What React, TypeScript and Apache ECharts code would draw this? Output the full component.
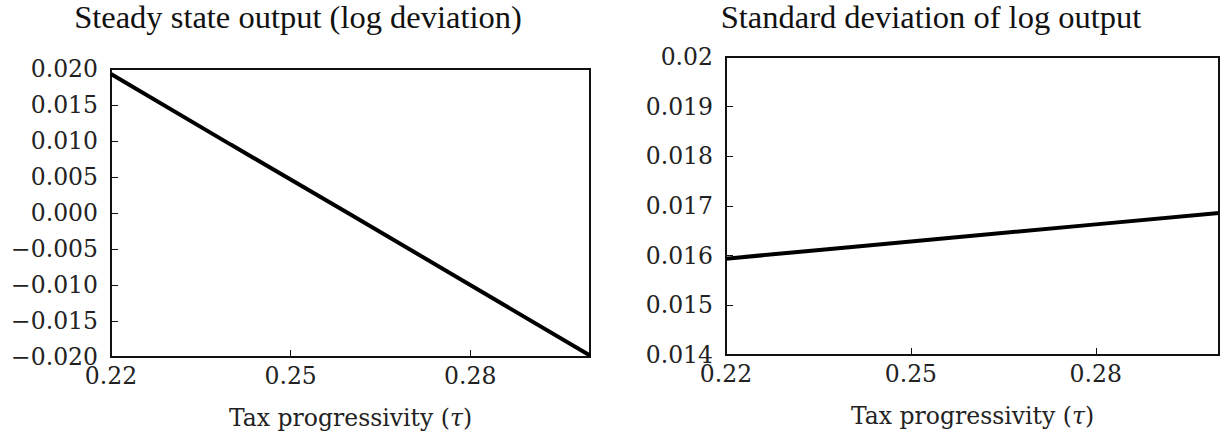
import React, { useEffect, useRef } from "react";
import * as echarts from "echarts";

// Data
const taxProgressivity = [0.22, 0.24, 0.26, 0.28, 0.3];
const steadyStateOutput = [0.0193, 0.0095, -0.0002, -0.01, -0.0198];
const stdLogOutput = [0.01594, 0.01617, 0.0164, 0.01663, 0.01686];

const xTicks = [0.22, 0.25, 0.28];
const leftTitle = "Steady state output (log deviation)";
const rightTitle = "Standard deviation of log output";
const xName = "Tax progressivity ({i|τ})";

const tickFont = "DejaVu Serif";
const titleFont = "Liberation Serif";

function fmtLeft(v: number): string {
  const s = Math.abs(v).toFixed(3);
  return v < -1e-9 ? "\u2212" + s : s;
}
function fmtRight(v: number): string {
  const r = Math.round(v * 1000) / 1000;
  if (Math.abs(r - 0.02) < 1e-9) return "0.02";
  return r.toFixed(3);
}

export default function App() {
  const ref = useRef<HTMLDivElement>(null);
  useEffect(() => {
    if (!ref.current) return;
    const chart = echarts.init(ref.current, null, { renderer: "svg" });
    const xAxisBase = (gridIndex: number) => ({
      type: "value",
      gridIndex,
      min: 0.22,
      max: 0.3,
      interval: 0.01,
      name: xName,
      nameLocation: "middle",
      nameGap: 49,
      nameTextStyle: {
        fontFamily: tickFont,
        fontSize: 23.5,
        color: "#222",
        rich: { i: { fontFamily: tickFont, fontStyle: "italic", fontSize: 23.5, color: "#222" } },
      },
      axisLine: { show: true, onZero: false, lineStyle: { color: "#111", width: 2 } },
      axisTick: {
        show: true,
        inside: true,
        length: 7,
        lineStyle: { color: "#111", width: 1 },
        customValues: xTicks,
      },
      axisLabel: {
        show: true,
        fontFamily: tickFont,
        fontSize: 23.5,
        color: "#222",
        margin: 7,
        customValues: xTicks,
        formatter: (v: number) => v.toFixed(2),
      },
      splitLine: { show: false },
    });
    chart.setOption({
      animation: false,
      backgroundColor: "#ffffff",
      title: [
        {
          text: leftTitle,
          left: 293,
          top: -5,
          textAlign: "center",
          textStyle: { fontFamily: titleFont, fontSize: 32.5, fontWeight: "normal", color: "#111" },
        },
        {
          text: rightTitle,
          left: 926,
          top: -5,
          textAlign: "center",
          textStyle: { fontFamily: titleFont, fontSize: 32.5, fontWeight: "normal", color: "#111" },
        },
      ],
      grid: [
        { left: 111, right: 631, top: 69, bottom: 83, show: true, borderColor: "#111", borderWidth: 2, backgroundColor: "transparent" },
        { left: 726, right: 2, top: 57, bottom: 85, show: true, borderColor: "#111", borderWidth: 2, backgroundColor: "transparent" },
      ],
      xAxis: [xAxisBase(0), xAxisBase(1)],
      yAxis: [
        {
          type: "value",
          gridIndex: 0,
          min: -0.02,
          max: 0.02,
          interval: 0.005,
          axisLine: { show: true, lineStyle: { color: "#111", width: 2 } },
          axisTick: { show: true, inside: true, length: 7, lineStyle: { color: "#111", width: 1 } },
          axisLabel: { fontFamily: tickFont, fontSize: 23.5, color: "#222", margin: 13, formatter: fmtLeft },
          splitLine: { show: false },
        },
        {
          type: "value",
          gridIndex: 1,
          min: 0.014,
          max: 0.02,
          interval: 0.001,
          axisLine: { show: true, lineStyle: { color: "#111", width: 2 } },
          axisTick: { show: true, inside: true, length: 7, lineStyle: { color: "#111", width: 1 } },
          axisLabel: { fontFamily: tickFont, fontSize: 23.5, color: "#222", margin: 13, formatter: fmtRight },
          splitLine: { show: false },
        },
      ],
      series: [
        {
          type: "line",
          xAxisIndex: 0,
          yAxisIndex: 0,
          data: taxProgressivity.map((x, i) => [x, steadyStateOutput[i]]),
          showSymbol: false,
          lineStyle: { color: "#000", width: 4 },
        },
        {
          type: "line",
          xAxisIndex: 1,
          yAxisIndex: 1,
          data: taxProgressivity.map((x, i) => [x, stdLogOutput[i]]),
          showSymbol: false,
          lineStyle: { color: "#000", width: 4 },
        },
      ],
    });
    return () => chart.dispose();
  }, []);
  return (
    <div
      ref={ref}
      style={{ position: "fixed", left: 0, top: 0, width: 1221, height: 440, background: "#fff" }}
    />
  );
}
